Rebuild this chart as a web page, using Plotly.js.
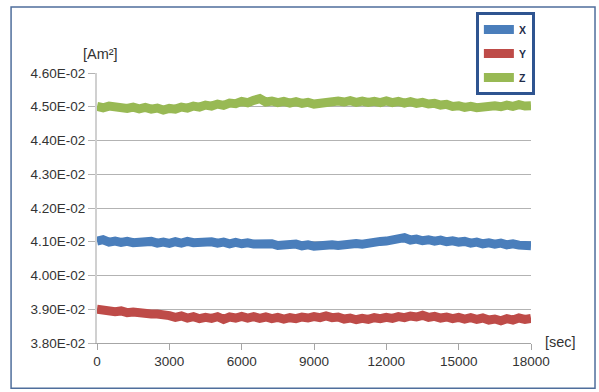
<!DOCTYPE html>
<html>
<head>
<meta charset="utf-8">
<script src="https://cdn.plot.ly/plotly-3.0.1.min.js"></script>
<style>
html,body{margin:0;padding:0;background:#fff;}
#chart{width:599px;height:392px;}
</style>
</head>
<body>
<div id="chart"></div>
<script>
// time axis (sec), one reading every 250 s
const timeSec = [0,250,500,750,1000,1250,1500,1750,2000,2250,2500,2750,3000,3250,3500,3750,4000,4250,4500,4750,5000,5250,5500,5750,6000,6250,6500,6750,7000,7250,7500,7750,8000,8250,8500,8750,9000,9250,9500,9750,10000,10250,10500,10750,11000,11250,11500,11750,12000,12250,12500,12750,13000,13250,13500,13750,14000,14250,14500,14750,15000,15250,15500,15750,16000,16250,16500,16750,17000,17250,17500,17750,18000];

const seriesNames = ["X", "Y", "Z"];

// X component [Am^2]
const xValues = [4.102e-2,4.106e-2,4.099e-2,4.102e-2,4.098e-2,4.101e-2,4.097e-2,4.100e-2,4.097e-2,4.101e-2,4.096e-2,4.099e-2,4.095e-2,4.100e-2,4.096e-2,4.101e-2,4.097e-2,4.099e-2,4.095e-2,4.100e-2,4.096e-2,4.099e-2,4.094e-2,4.098e-2,4.094e-2,4.097e-2,4.093e-2,4.095e-2,4.091e-2,4.094e-2,4.089e-2,4.092e-2,4.090e-2,4.093e-2,4.088e-2,4.091e-2,4.087e-2,4.090e-2,4.087e-2,4.091e-2,4.089e-2,4.093e-2,4.091e-2,4.095e-2,4.093e-2,4.097e-2,4.096e-2,4.101e-2,4.102e-2,4.107e-2,4.106e-2,4.112e-2,4.105e-2,4.108e-2,4.103e-2,4.106e-2,4.102e-2,4.105e-2,4.100e-2,4.103e-2,4.099e-2,4.101e-2,4.096e-2,4.099e-2,4.094e-2,4.097e-2,4.093e-2,4.096e-2,4.091e-2,4.094e-2,4.090e-2,4.092e-2,4.088e-2];

// Y component [Am^2]
const yValues = [3.900e-2,3.896e-2,3.898e-2,3.893e-2,3.895e-2,3.890e-2,3.892e-2,3.888e-2,3.890e-2,3.886e-2,3.886e-2,3.880e-2,3.881e-2,3.876e-2,3.880e-2,3.874e-2,3.878e-2,3.872e-2,3.876e-2,3.873e-2,3.878e-2,3.870e-2,3.877e-2,3.874e-2,3.879e-2,3.874e-2,3.878e-2,3.873e-2,3.877e-2,3.872e-2,3.876e-2,3.871e-2,3.875e-2,3.872e-2,3.877e-2,3.874e-2,3.878e-2,3.875e-2,3.880e-2,3.875e-2,3.877e-2,3.871e-2,3.874e-2,3.869e-2,3.873e-2,3.870e-2,3.875e-2,3.872e-2,3.876e-2,3.873e-2,3.878e-2,3.875e-2,3.880e-2,3.877e-2,3.882e-2,3.876e-2,3.879e-2,3.874e-2,3.877e-2,3.872e-2,3.876e-2,3.871e-2,3.875e-2,3.870e-2,3.874e-2,3.868e-2,3.871e-2,3.866e-2,3.872e-2,3.868e-2,3.874e-2,3.870e-2,3.873e-2];

// Z component [Am^2]
const zValues = [4.501e-2,4.497e-2,4.502e-2,4.498e-2,4.500e-2,4.495e-2,4.499e-2,4.494e-2,4.498e-2,4.493e-2,4.496e-2,4.490e-2,4.495e-2,4.493e-2,4.499e-2,4.496e-2,4.502e-2,4.499e-2,4.505e-2,4.502e-2,4.508e-2,4.504e-2,4.511e-2,4.509e-2,4.516e-2,4.512e-2,4.519e-2,4.524e-2,4.514e-2,4.517e-2,4.512e-2,4.516e-2,4.511e-2,4.515e-2,4.510e-2,4.513e-2,4.508e-2,4.511e-2,4.514e-2,4.511e-2,4.517e-2,4.514e-2,4.518e-2,4.513e-2,4.517e-2,4.513e-2,4.516e-2,4.512e-2,4.517e-2,4.512e-2,4.516e-2,4.511e-2,4.515e-2,4.510e-2,4.513e-2,4.508e-2,4.510e-2,4.505e-2,4.507e-2,4.501e-2,4.503e-2,4.498e-2,4.501e-2,4.497e-2,4.501e-2,4.499e-2,4.503e-2,4.500e-2,4.505e-2,4.501e-2,4.506e-2,4.502e-2,4.503e-2];

const yTickVals = [0.038,0.039,0.040,0.041,0.042,0.043,0.044,0.045,0.046];
const yTickText = ["3.80E-02","3.90E-02","4.00E-02","4.10E-02","4.20E-02","4.30E-02","4.40E-02","4.50E-02","4.60E-02"];
const xTickVals = [0,3000,6000,9000,12000,15000,18000];
const xTickText = ["0","3000","6000","9000","12000","15000","18000"];

const colors = ["#4A7EBB", "#BE4B48", "#98B954"];
const allValues = [xValues, yValues, zValues];

const traces = allValues.map((vals, i) => ({
  type: "scatter",
  mode: "lines",
  name: seriesNames[i],
  x: timeSec,
  y: vals,
  legendgroup: "g" + i,
  line: {color: colors[i], width: 9, shape: "linear"},
  hoverinfo: "skip"
}));

const font = "Liberation Sans, Arial, sans-serif";
const txt = "#333333";

const layout = {
  width: 599,
  height: 392,
  margin: {l: 97, r: 68, t: 69, b: 49},
  paper_bgcolor: "#ffffff",
  plot_bgcolor: "#ffffff",
  showlegend: true,
  font: {family: font, size: 13.5, color: txt},
  xaxis: {
    range: [0, 18000],
    tickvals: xTickVals,
    ticktext: xTickText,
    showgrid: false,
    zeroline: false,
    showline: true,
    linecolor: "#A6A6A6",
    linewidth: 1,
    ticks: "outside",
    ticklen: 6,
    tickcolor: "#A6A6A6",
    tickfont: {family: font, size: 13.5, color: txt},
    fixedrange: true
  },
  yaxis: {
    range: [0.038, 0.046],
    tickvals: yTickVals,
    ticktext: yTickText,
    showgrid: true,
    gridcolor: "#B3B3B3",
    gridwidth: 1,
    zeroline: false,
    showline: true,
    linecolor: "#D0D0D0",
    linewidth: 2,
    ticks: "outside",
    ticklen: 7,
    tickcolor: "#B3B3B3",
    tickfont: {family: font, size: 13.5, color: txt},
    fixedrange: true
  },
  legend: {
    x: 0.873,
    y: 1.226,
    xanchor: "left",
    yanchor: "top",
    bgcolor: "#ffffff",
    bordercolor: "#2F5490",
    borderwidth: 3,
    traceorder: "grouped",
    tracegroupgap: 5,
    itemwidth: 30,
    font: {family: font, size: 10.5, color: "#1F2D4A", weight: "bold"}
  },
  shapes: [{
    type: "rect",
    xref: "paper", yref: "paper",
    x0: -0.198, x1: 1.1475, y0: -0.168, y1: 1.2445,
    line: {color: "#4F6E9C", width: 1.5},
    fillcolor: "rgba(0,0,0,0)",
    layer: "below"
  }],
  annotations: [
    {text: "[Am²]", xref: "paper", yref: "paper", x: 0.009, y: 1.069, xanchor: "center", yanchor: "middle", showarrow: false, font: {family: font, size: 14.5, color: txt}},
    {text: "[sec]", xref: "paper", yref: "paper", x: 1.069, y: 0.004, xanchor: "center", yanchor: "middle", showarrow: false, font: {family: font, size: 14.5, color: txt}}
  ]
};

Plotly.newPlot("chart", traces, layout, {staticPlot: true, displayModeBar: false});
</script>
</body>
</html>
